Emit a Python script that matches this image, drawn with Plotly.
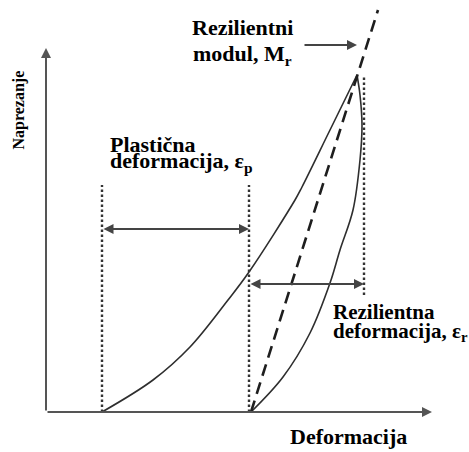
import plotly.graph_objects as go

# Coordinates: deformation (x) and stress (y) in diagram units, origin at axes corner
loading_x = [56, 107, 144, 182, 203, 249, 256, 284, 311]
loading_y = [0, 32, 65, 112, 140, 212, 225, 282, 337]

unloading_x = [205, 237, 264, 284, 294, 307, 314, 316, 314, 311]
unloading_y = [0, 35, 79, 129, 162, 202, 252, 287, 317, 337]

modulus_x = [205, 332]
modulus_y = [0, 402]

dotted_x = [[56, 56], [203, 203], [318, 318]]
dotted_y = [[0, 227], [0, 227], [117, 337]]

axis_x_end = 386
axis_y_end = 364

plastic_span = [56, 203]
plastic_level = 183
resilient_span = [203, 318]
resilient_level = 128
mr_arrow_x = [257, 311]
mr_arrow_y = 367

labels = [
    ("Rezilientni", 196, 385, "center", 22),
    ("modul, M<sub>r</sub>", 196, 357, "center", 22),
    ("Plastična", 62, 268, "left", 22),
    ("deformacija, ε<sub>p</sub>", 62, 250, "left", 22),
    ("Rezilientna", 285, 100, "left", 21),
    ("deformacija, ε<sub>r</sub>", 285, 80, "left", 21),
    ("Deformacija", 302, -24, "center", 22),
]

LINE = "#2e2e2e"
AXIS = "#555555"
TXT = "#000000"
FONT = "Liberation Serif"

fig = go.Figure()

fig.add_trace(go.Scatter(x=loading_x, y=loading_y, mode="lines",
                         line=dict(color=LINE, width=1.6, shape="spline", smoothing=1.0),
                         hoverinfo="skip", showlegend=False))
fig.add_trace(go.Scatter(x=unloading_x, y=unloading_y, mode="lines",
                         line=dict(color=LINE, width=1.6, shape="spline", smoothing=1.0),
                         hoverinfo="skip", showlegend=False))
fig.add_trace(go.Scatter(x=modulus_x, y=modulus_y, mode="lines",
                         line=dict(color="#1e1e1e", width=2.6, dash="12px,7px"),
                         hoverinfo="skip", showlegend=False))
for dx, dy in zip(dotted_x, dotted_y):
    fig.add_trace(go.Scatter(x=dx, y=dy, mode="lines",
                             line=dict(color="#333333", width=2.4, dash="2.4px,2.6px"),
                             hoverinfo="skip", showlegend=False))

def arrow(x0, y0, x1, y1, side="end", color=AXIS, width=1.6, size=1.0):
    fig.add_annotation(x=x1, y=y1, ax=x0, ay=y0, xref="x", yref="y",
                       axref="x", ayref="y", text="", showarrow=True,
                       arrowhead=2, arrowsize=size, arrowwidth=width,
                       arrowcolor=color, arrowside=side, standoff=0, startstandoff=0)

# axes
arrow(0, 0, axis_x_end, 0, width=2)
arrow(0, 0, 0, axis_y_end, width=2)
# double arrows
arrow(plastic_span[0], plastic_level, plastic_span[1], plastic_level, side="end+start", color="#444444", width=2)
arrow(resilient_span[0], resilient_level, resilient_span[1], resilient_level, side="end+start", color="#444444", width=2)
# Mr pointer
arrow(mr_arrow_x[0], mr_arrow_y, mr_arrow_x[1], mr_arrow_y, color="#444444", width=2)

for txt, x, y, anchor, size in labels:
    fig.add_annotation(x=x, y=y, xref="x", yref="y", text="<b>" + txt + "</b>",
                       showarrow=False, xanchor=anchor, yanchor="middle",
                       font=dict(family=FONT, size=size, color=TXT))

fig.add_annotation(x=-27.5, y=302, xref="x", yref="y", text="<b>Naprezanje</b>",
                   showarrow=False, xanchor="center", yanchor="middle", textangle=-90,
                   font=dict(family=FONT, size=16, color=TXT))

fig.update_layout(
    width=469, height=452,
    margin=dict(l=0, r=0, t=0, b=0),
    paper_bgcolor="white", plot_bgcolor="white",
    xaxis=dict(range=[-46, 423], visible=False, fixedrange=True),
    yaxis=dict(range=[-40, 412], visible=False, fixedrange=True),
    showlegend=False,
)

fig.write_html("out.html", config={"displayModeBar": False},
               post_script="document.body.style.margin='0';")
